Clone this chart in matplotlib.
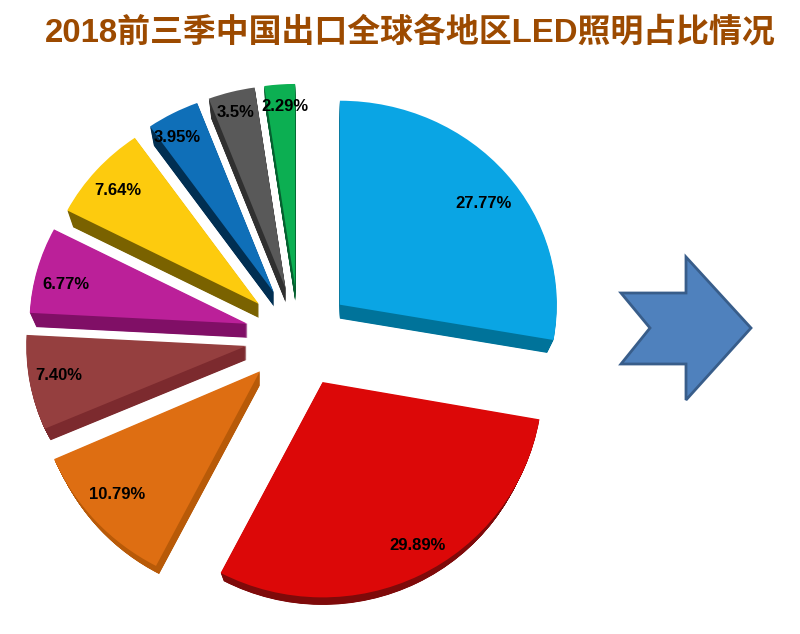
import numpy as np
import matplotlib
matplotlib.use("Agg")
import matplotlib.pyplot as plt
from matplotlib.patches import Polygon
from matplotlib.transforms import Affine2D

title = "2018前三季中国出口全球各地区LED照明占比情况"
shares = [27.77, 29.89, 10.79, 7.40, 6.77, 7.64, 3.95, 3.5, 2.29]
pct_labels = ["27.77%", "29.89%", "10.79%", "7.40%", "6.77%", "7.64%", "3.95%", "3.5%", "2.29%"]
top_colors = ["#0AA5E4", "#DC0808", "#DE6E12", "#953F3F", "#BB2099", "#FDCB0E", "#0F6FB8", "#595959", "#0CAF52"]
side_colors = ["#00739A", "#7E0A0A", "#B85A08", "#7C2A2E", "#800F66", "#7A6200", "#012F52", "#303030", "#056030"]
# wedge radius tweak, the lower slices look bigger because of the perspective
radius_scale = [0.995, 1.01, 1.03, 1.01, 1.0, 0.99, 0.99, 0.99, 0.99]
stretch_y = [1.0, 1.04, 1.04, 1.0, 1.0, 1.0, 1.0, 1.0, 1.0]
label_dist = [0.83, 0.898, 0.882, 0.873, 0.858, 0.856, 0.886, 0.898, 0.889]
label_angle = [37.3, -61, -138, -171, 166.5, 139, 120, 104.8, 93]

CX, CY = 299, 337   # pie centre in pixels from top left
RX, RY = 218, 205   # pixels per unit radius
EXPLODE = 0.245
DEPTH = 0.068
W, H = 800, 634

fig = plt.figure(figsize=(W / 100, H / 100), dpi=100)
ax = fig.add_axes([0, 0, 1, 1])
explode = [EXPLODE] * len(shares)


def shape_wedges(wedges, shrink=1.0):
    for w, s, k in zip(wedges, radius_scale, stretch_y):
        w.set_radius(s * shrink)
        cx, cy = w.center
        w.set_transform(Affine2D().translate(-cx, -cy).scale(1, k).translate(cx, cy) + ax.transData)


# side of the slices: sweep of the same pie moved down
for t in np.linspace(1, 0.05, 28):
    wedges, _ = ax.pie(shares, explode=explode, startangle=90, counterclock=False,
                       colors=side_colors, center=(0, -DEPTH * t),
                       wedgeprops={"linewidth": 0})
    shape_wedges(wedges, 1 - 0.03 * t)

wedges, _ = ax.pie(shares, explode=explode, startangle=90, counterclock=False,
                   colors=top_colors, wedgeprops={"linewidth": 0})
shape_wedges(wedges)

ax.set_aspect("auto")
ax.set_xlim(-CX / RX, (W - CX) / RX)
ax.set_ylim((CY - H) / RY, CY / RY)
ax.axis("off")

for w, lab, d, ang in zip(wedges, pct_labels, label_dist, label_angle):
    a = np.deg2rad(ang)
    ax.text(w.center[0] + d * np.cos(a), w.center[1] + d * np.sin(a) - 2 / RY, lab,
            ha="center", va="center", fontsize=12, fontweight="bold",
            family="Liberation Sans", color="black")

# arrow on the right, in pixel coordinates
arrow_px = [(621, 293), (686, 293), (686, 257), (751, 328), (686, 400), (686, 364), (621, 364), (650, 328)]
arrow = [((x - CX) / RX, (CY - y) / RY) for x, y in arrow_px]
ax.add_patch(Polygon(arrow, closed=True, facecolor="#4F81BD", edgecolor="#385D8A", linewidth=2))

fig.text(410 / W, 1 - 33 / H, title, ha="center", va="center", fontsize=23.7, fontweight="bold",
         family=["Liberation Sans", "Noto Sans CJK SC"], color="#9C4A00")

fig.savefig("out.png", dpi=100, facecolor="white")
